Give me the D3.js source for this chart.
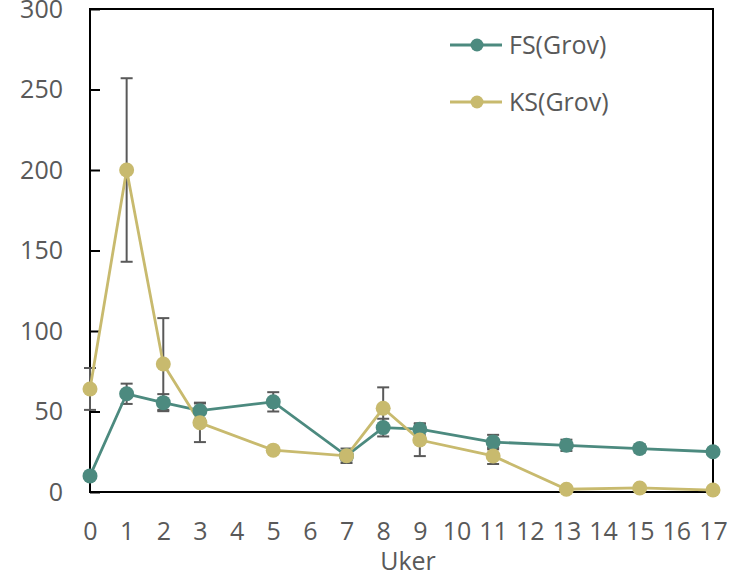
<!DOCTYPE html>
<html>
<head>
<meta charset="utf-8">
<script src="https://cdn.jsdelivr.net/npm/d3@7"></script>
<style>
  body { margin: 0; background: #fff; }
  text { font-family: "Open Sans", sans-serif; }
</style>
</head>
<body>
<script>
var width = 736,
    height = 572;

// weeks (Uker) and series values
var weeks = [0, 1, 2, 3, 5, 7, 8, 9, 11, 13, 15, 17];
var fsMean = [10, 61, 55.5, 50.5, 56, 22.5, 40, 39, 31, 29, 27, 25];
var fsErr  = [0, 6.3, 5.3, 5, 6, 4.5, 5.5, 3.7, 4.5, 3.5, 2.5, 2];
var ksMean = [64, 200, 79.5, 43, 26, 22.5, 52, 32.3, 22.4, 1.7, 2.5, 1.2];
var ksErr  = [13, 57, 28.5, 12, 0, 3, 13, 10, 5, 0, 0, 0];

var xTicks = d3.range(0, 18);
var yTicks = [0, 50, 100, 150, 200, 250, 300];

var series = [
  {name: "FS(Grov)", mean: fsMean, err: fsErr, color: "#4c8a7f"},
  {name: "KS(Grov)", mean: ksMean, err: ksErr, color: "#c8ba6e"}
];

var svg = d3.select("body").append("svg")
    .attr("width", width)
    .attr("height", height);

var x = d3.scaleLinear().domain([0, 17]).range([90, 713]);
var y = d3.scaleLinear().domain([0, 300]).range([492, 9]);

// axes
var yAxis = svg.append("g")
    .attr("transform", "translate(90,0)")
    .call(d3.axisLeft(y).tickValues(yTicks).tickSize(-10).tickPadding(27));
yAxis.select(".domain").remove();
yAxis.selectAll("line").attr("stroke", "#000").attr("stroke-width", 2);

var xAxis = svg.append("g")
    .attr("transform", "translate(0,492)")
    .call(d3.axisBottom(x).tickValues(xTicks).tickSize(0).tickPadding(30));
xAxis.select(".domain").remove();

svg.selectAll(".tick text")
    .attr("fill", "#595959")
    .style("font-size", "25px")
    .style("font-family", "'Open Sans', sans-serif");

// frame
svg.append("rect")
    .attr("x", x(0))
    .attr("y", y(300))
    .attr("width", x(17) - x(0))
    .attr("height", y(0) - y(300))
    .attr("fill", "none")
    .attr("stroke", "#000")
    .attr("stroke-width", 2);

svg.append("text")
    .attr("x", 408)
    .attr("y", 570)
    .attr("text-anchor", "middle")
    .attr("fill", "#595959")
    .style("font-size", "25px")
    .text("Uker");

// error bars
series.forEach(function(s) {
  var g = svg.append("g").attr("stroke", "#595959").attr("stroke-width", 2);
  weeks.forEach(function(w, i) {
    if (!s.err[i]) return;
    var top = y(s.mean[i] + s.err[i]), bot = y(s.mean[i] - s.err[i]);
    g.append("line").attr("x1", x(w)).attr("x2", x(w)).attr("y1", top).attr("y2", bot);
    g.append("line").attr("x1", x(w) - 6).attr("x2", x(w) + 6).attr("y1", top).attr("y2", top);
    g.append("line").attr("x1", x(w) - 6).attr("x2", x(w) + 6).attr("y1", bot).attr("y2", bot);
  });
});

var line = d3.line()
    .x(function(d) { return x(d[0]); })
    .y(function(d) { return y(d[1]); });

series.forEach(function(s) {
  svg.append("path")
      .datum(weeks.map(function(w, i) { return [w, s.mean[i]]; }))
      .attr("fill", "none")
      .attr("stroke", s.color)
      .attr("stroke-width", 2.8)
      .attr("d", line);
});

series.forEach(function(s) {
  svg.selectAll(null)
      .data(weeks.map(function(w, i) { return [w, s.mean[i]]; }))
      .enter()
      .append("circle")
      .attr("cx", function(d) { return x(d[0]); })
      .attr("cy", function(d) { return y(d[1]); })
      .attr("r", 7.5)
      .attr("fill", s.color);
});

// legend
var legend = svg.selectAll(".legend")
    .data(series)
    .enter()
    .append("g")
    .attr("class", "legend")
    .attr("transform", function(d, i) { return "translate(450," + (45 + i * 57) + ")"; });

legend.append("line")
    .attr("x1", 0).attr("x2", 52)
    .attr("stroke", function(d) { return d.color; })
    .attr("stroke-width", 2.8);
legend.append("circle")
    .attr("cx", 27)
    .attr("r", 6.5)
    .attr("fill", function(d) { return d.color; });
legend.append("text")
    .attr("x", 59)
    .attr("dy", "0.35em")
    .attr("fill", "#595959")
    .style("font-size", "25px")
    .text(function(d) { return d.name; });
</script>
</body>
</html>
